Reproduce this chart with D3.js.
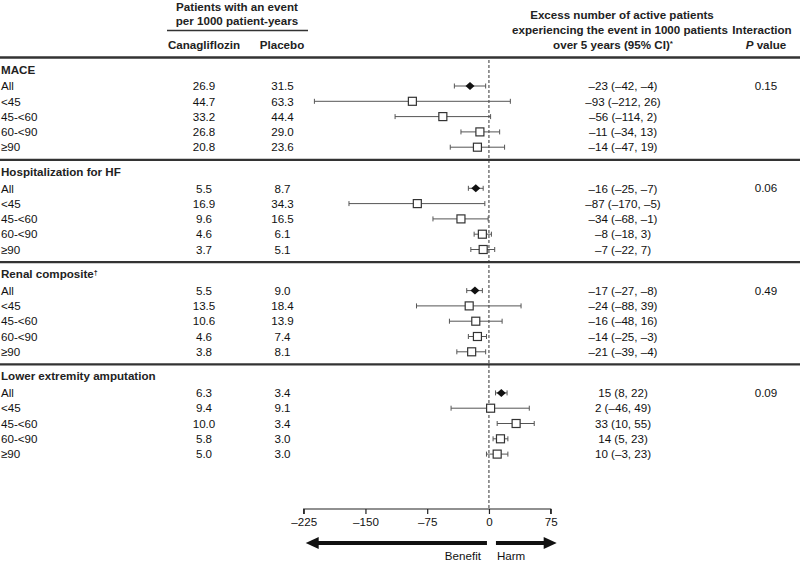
<!DOCTYPE html>
<html><head><meta charset="utf-8">
<script src="https://cdn.jsdelivr.net/npm/d3@7"></script>
<style>body{margin:0;background:#fff}svg{display:block;font-family:"Liberation Sans",Arial,sans-serif}</style>
</head><body><svg id="c" width="800" height="561"></svg>
<script>
const sections = ["MACE","Hospitalization for HF","Renal composite","Lower extremity amputation"];
const sectionMarks = ["","","†",""];
const subgroups = ["All","<45","45-<60","60-<90","≥90"];
const canagliflozin = [[26.9,44.7,33.2,26.8,20.8],[5.5,16.9,9.6,4.6,3.7],[5.5,13.5,10.6,4.6,3.8],[6.3,9.4,10.0,5.8,5.0]];
const placebo = [[31.5,63.3,44.4,29.0,23.6],[8.7,34.3,16.5,6.1,5.1],[9.0,18.4,13.9,7.4,8.1],[3.4,9.1,3.4,3.0,3.0]];
const estimate = [[-23,-93,-56,-11,-14],[-16,-87,-34,-8,-7],[-17,-24,-16,-14,-21],[15,2,33,14,10]];
const lower = [[-42,-212,-114,-34,-47],[-25,-170,-68,-18,-22],[-27,-88,-48,-25,-39],[8,-46,10,5,-3]];
const upper = [[-4,26,2,13,19],[-7,-5,-1,3,7],[-8,39,16,-3,-4],[22,49,55,23,23]];
const pValues = ["0.15","0.06","0.49","0.09"];
const xTicks = [-225,-150,-75,0,75];

const svg = d3.select("#c");
const x = d3.scaleLinear().domain([-225,75]).range([303.7,550.7]);
const fmt = v => (v<0?"\u2013":"") + Math.abs(v);
const fmt1 = v => v.toFixed(1);
const FS = 11.6;
const ink = "#111";

// header
const hb = svg.append("g").attr("font-weight","bold").attr("font-size",FS).attr("fill","#222").attr("text-anchor","middle");
hb.append("text").attr("x",237).attr("y",11).text("Patients with an event");
hb.append("text").attr("x",237).attr("y",25).text("per 1000 patient-years");
svg.append("line").attr("x1",167).attr("x2",308).attr("y1",30.5).attr("y2",30.5).attr("stroke","#333").attr("stroke-width",1.5);
hb.append("text").attr("x",204).attr("y",49).text("Canagliflozin");
hb.append("text").attr("x",282).attr("y",49).text("Placebo");
hb.append("text").attr("x",622).attr("y",19).text("Excess number of active patients");
hb.append("text").attr("x",620).attr("y",34).text("experiencing the event in 1000 patients");
const t3 = hb.append("text").attr("x",613).attr("y",49);
t3.append("tspan").text("over 5 years (95% CI)");
t3.append("tspan").attr("font-size",8).attr("dy",-3).text("*");
hb.append("text").attr("x",762).attr("y",34).text("Interaction");
const pv = hb.append("text").attr("x",766).attr("y",49);
pv.append("tspan").attr("font-style","italic").text("P");
pv.append("tspan").text(" value");

svg.append("line").attr("x1",0).attr("x2",800).attr("y1",57.5).attr("y2",57.5).attr("stroke","#333").attr("stroke-width",2.5);

// zero reference line
const yTop = 60, axisY = 509;
svg.append("line").attr("x1",x(0)).attr("x2",x(0)).attr("y1",yTop).attr("y2",axisY)
  .attr("stroke","#333").attr("stroke-width",1).attr("stroke-dasharray","3,2");

const secH = 102.3, secTop = 57.5;
sections.forEach((s,i)=>{
  const top = secTop + i*secH;
  if(i>0) svg.append("line").attr("x1",0).attr("x2",800).attr("y1",top).attr("y2",top).attr("stroke","#333").attr("stroke-width",2.2);
  const tt = svg.append("text").attr("x",1).attr("y",top+16).attr("font-size",FS).attr("font-weight","bold").attr("fill","#222").text(s);
  if(sectionMarks[i]) tt.append("tspan").attr("font-size",7).attr("dy",-3).text(sectionMarks[i]);
  svg.append("text").attr("x",766).attr("y",top+32.5).attr("font-size",FS).attr("fill",ink).attr("text-anchor","middle").text(pValues[i]);
  subgroups.forEach((g,j)=>{
    const y = top + 28.5 + j*15.3;
    const ty = y+4.2;
    svg.append("text").attr("x",1).attr("y",ty).attr("font-size",FS).attr("fill",ink).text(g);
    svg.append("text").attr("x",204).attr("y",ty).attr("font-size",FS).attr("fill",ink).attr("text-anchor","middle").text(fmt1(canagliflozin[i][j]));
    svg.append("text").attr("x",282.5).attr("y",ty).attr("font-size",FS).attr("fill",ink).attr("text-anchor","middle").text(fmt1(placebo[i][j]));
    svg.append("text").attr("x",623).attr("y",ty).attr("font-size",FS).attr("fill",ink).attr("text-anchor","middle")
      .text(`${fmt(estimate[i][j])} (${fmt(lower[i][j])}, ${fmt(upper[i][j])})`);
    // CI
    const g2 = svg.append("g").attr("stroke","#555").attr("stroke-width",1);
    g2.append("line").attr("x1",x(lower[i][j])).attr("x2",x(upper[i][j])).attr("y1",y).attr("y2",y);
    [lower[i][j],upper[i][j]].forEach(v=>g2.append("line").attr("x1",x(v)).attr("x2",x(v)).attr("y1",y-2.5).attr("y2",y+2.5));
    const cx = x(estimate[i][j]);
    if(j===0){
      svg.append("path").attr("d",`M${cx-4.5},${y}L${cx},${y-4}L${cx+4.5},${y}L${cx},${y+4}Z`).attr("fill","#111");
    } else {
      svg.append("rect").attr("x",cx-4).attr("y",y-4).attr("width",8).attr("height",8)
        .attr("fill","#fff").attr("stroke","#333").attr("stroke-width",1.2);
    }
  });
});

// axis
const axis = d3.axisBottom(x).tickValues(xTicks).tickSize(5).tickFormat(fmt);
const ag = svg.append("g").attr("transform",`translate(0,${axisY})`).call(axis);
ag.select(".domain").attr("stroke","#222").attr("stroke-width",1.2).attr("d",`M${x(-225)},5V0H${x(75)}V5`);
ag.selectAll(".tick line").attr("stroke","#222").attr("stroke-width",1.2);
ag.selectAll(".tick text").attr("font-size",FS).attr("fill",ink).attr("font-family","Liberation Sans, Arial, sans-serif").attr("dy","0.75em");

// arrows
const ay = 543;
const arr = svg.append("g").attr("fill","#111").attr("stroke","#111");
arr.append("line").attr("x1",x(0)-2).attr("x2",x(-225)+12).attr("y1",ay).attr("y2",ay).attr("stroke-width",4);
arr.append("path").attr("stroke","none").attr("d",`M${x(-225)+2},${ay}L${x(-225)+15},${ay-6}L${x(-225)+15},${ay+6}Z`);
arr.append("line").attr("x1",x(0)+7).attr("x2",x(75)-4).attr("y1",ay).attr("y2",ay).attr("stroke-width",4);
arr.append("path").attr("stroke","none").attr("d",`M${x(75)+6},${ay}L${x(75)-7},${ay-6}L${x(75)-7},${ay+6}Z`);
svg.append("text").attr("x",x(0)-8).attr("y",560).attr("font-size",FS).attr("fill",ink).attr("text-anchor","end").text("Benefit");
svg.append("text").attr("x",x(0)+8).attr("y",560).attr("font-size",FS).attr("fill",ink).text("Harm");
</script></body></html>
